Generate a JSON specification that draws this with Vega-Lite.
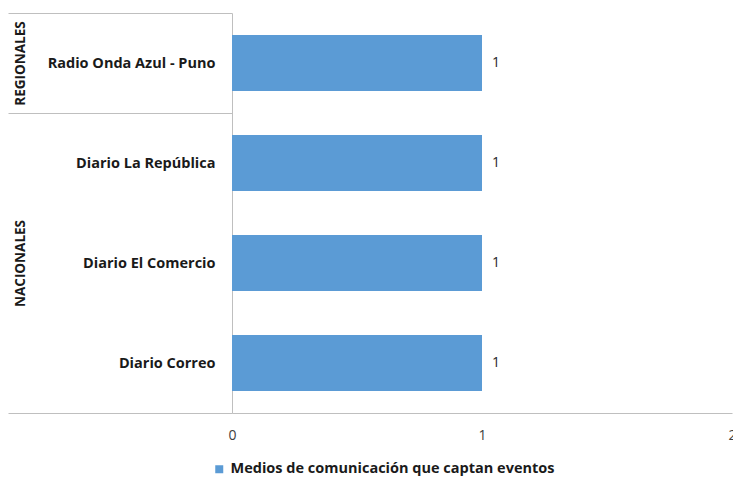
{
  "$schema": "https://vega.github.io/schema/vega-lite/v6.json",
  "width": 500,
  "height": 400,
  "autosize": {"type": "none"},
  "padding": {"left": 232, "top": 13, "right": 1, "bottom": 65},
  "background": "white",
  "config": {"view": {"stroke": null}, "font": "Open Sans", "axisX": {"labelOverlap": false}},
  "data": {
    "values": [
      {"medio": "Radio Onda Azul - Puno", "grupo": "REGIONALES", "valor": 1, "serie": "Medios de comunicación que captan eventos"},
      {"medio": "Diario La República", "grupo": "NACIONALES", "valor": 1, "serie": "Medios de comunicación que captan eventos"},
      {"medio": "Diario El Comercio", "grupo": "NACIONALES", "valor": 1, "serie": "Medios de comunicación que captan eventos"},
      {"medio": "Diario Correo", "grupo": "NACIONALES", "valor": 1, "serie": "Medios de comunicación que captan eventos"}
    ]
  },
  "layer": [
    {
      "mark": {"type": "bar"},
      "encoding": {
        "y": {
          "field": "medio",
          "type": "nominal",
          "sort": ["Radio Onda Azul - Puno", "Diario La República", "Diario El Comercio", "Diario Correo"],
          "scale": {"paddingInner": 0.44, "paddingOuter": 0.22},
          "axis": {
            "orient": "left",
            "title": null,
            "domain": true,
            "domainColor": "#BFBFBF",
            "ticks": true,
            "bandPosition": 1,
            "tickOffset": 22,
            "labelOffset": -22,
            "tickSize": 224,
            "tickColor": "#BFBFBF",
            "tickOpacity": {"condition": {"test": "datum.value === 'Diario Correo'", "value": 1}, "value": 0},
            "labelPadding": -207,
            "labelFontSize": 14.5,
            "labelFontWeight": "bold",
            "labelColor": "#1a1a1a",
            "grid": false
          }
        },
        "x": {
          "field": "valor",
          "type": "quantitative",
          "scale": {"domain": [0, 2], "nice": false},
          "axis": {
            "orient": "bottom",
            "title": null,
            "values": [0, 1, 2],
            "format": ".0f",
            "domain": true,
            "domainColor": "#BFBFBF",
            "ticks": false,
            "grid": false,
            "labelFlush": false,
            "labelOverlap": false,
            "labelBound": false,
            "labelPadding": 15,
            "labelFontSize": 14,
            "labelColor": "#404040"
          }
        },
        "color": {
          "field": "serie",
          "type": "nominal",
          "scale": {"range": ["#5B9BD5"]},
          "legend": {
            "title": null,
            "orient": "none",
            "legendX": -20,
            "legendY": 449,
            "direction": "horizontal",
            "symbolType": "square",
            "symbolSize": 64,
            "symbolStrokeWidth": 0,
            "labelFontSize": 14.5,
            "labelFontWeight": "bold",
            "labelColor": "#1a1a1a",
            "labelLimit": 500
          }
        }
      }
    },
    {
      "mark": {"type": "text", "align": "left", "baseline": "middle", "dx": 10, "fontSize": 14, "color": "#262626"},
      "encoding": {
        "y": {
          "field": "medio",
          "type": "nominal",
          "sort": ["Radio Onda Azul - Puno", "Diario La República", "Diario El Comercio", "Diario Correo"],
          "axis": {
            "orient": "left",
            "title": null,
            "domain": false,
            "ticks": true,
            "bandPosition": 0,
            "tickOffset": -22,
            "labelOffset": 22,
            "tickSize": 224,
            "tickColor": "#BFBFBF",
            "tickOpacity": {"condition": {"test": "datum.value === 'Radio Onda Azul - Puno' || datum.value === 'Diario La República'", "value": 1}, "value": 0},
            "grid": false,
            "labelExpr": "datum.value === 'Radio Onda Azul - Puno' ? 'REGIONALES' : (datum.value === 'Diario El Comercio' ? 'NACIONALES' : '')",
            "labelAngle": 270,
            "labelAlign": "center",
            "labelBaseline": "middle",
            "labelPadding": -12,
            "labelFontSize": 13.5,
            "labelFontWeight": "bold",
            "labelColor": "#1a1a1a"
          }
        },
        "x": {"field": "valor", "type": "quantitative"},
        "text": {"field": "valor", "type": "quantitative", "format": ".0f"}
      }
    }
  ],
  "resolve": {"axis": {"y": "independent"}}
}
